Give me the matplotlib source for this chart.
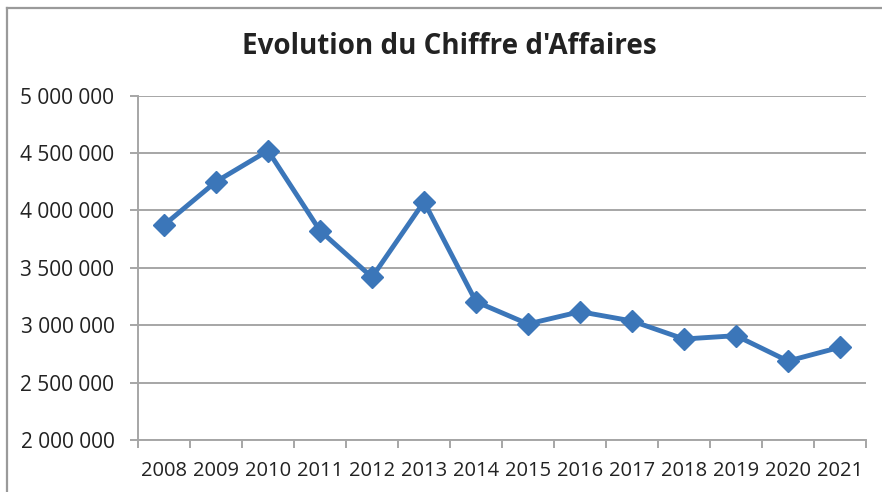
import matplotlib
matplotlib.use("Agg")
import matplotlib.pyplot as plt
from matplotlib.lines import Line2D
from matplotlib.ticker import FuncFormatter, FixedLocator

years = ["2008", "2009", "2010", "2011", "2012", "2013", "2014",
         "2015", "2016", "2017", "2018", "2019", "2020", "2021"]
chiffre_affaires = [3873000, 4251000, 4521000, 3824000, 3418000, 4076000, 3205000,
                    3011000, 3118000, 3037000, 2880000, 2909000, 2688000, 2808000]
y_ticks = [2000000, 2500000, 3000000, 3500000, 4000000, 4500000, 5000000]
title = "Evolution du Chiffre d'Affaires"

plt.rcParams['font.family'] = ['Open Sans', 'DejaVu Sans']

W, H = 882, 492
fig = plt.figure(figsize=(W / 100, H / 100), dpi=100)
ax = fig.add_axes([138 / W, 1 - 440 / H, (866 - 138) / W, (440 - 95.7) / H])

grid_c = "#a6a6a6"
line_c = "#3b76b9"

x = list(range(len(years)))
ax.plot(x, chiffre_affaires, color=line_c, lw=3.5, marker="D", markersize=11,
        markerfacecolor=line_c, markeredgecolor=line_c, solid_joinstyle="round", zorder=3)

ax.set_xlim(-0.5, len(years) - 0.5)
ax.set_ylim(y_ticks[0], y_ticks[-1])
ax.set_yticks(y_ticks)
ax.yaxis.set_major_formatter(FuncFormatter(lambda v, p: f"{int(v):,}".replace(",", " ")))
ax.grid(axis="y", color=grid_c, lw=1.4)
ax.set_axisbelow(True)

ax.set_xticks(x)
ax.set_xticklabels(years)
ax.xaxis.set_minor_locator(FixedLocator([i - 0.5 for i in range(len(years) + 1)]))
ax.tick_params(axis="x", which="major", length=0, pad=15, labelsize=14.5, labelcolor="#222222")
ax.tick_params(axis="x", which="minor", length=6, width=1.4, color=grid_c, direction="out")
ax.tick_params(axis="y", length=6, width=1.4, color=grid_c, pad=11, labelsize=15,
               labelcolor="#222222")

for s in ["top", "right"]:
    ax.spines[s].set_visible(False)
for s in ["left", "bottom"]:
    ax.spines[s].set_color(grid_c)
    ax.spines[s].set_linewidth(1.4)

fig.text(449 / W, 1 - 47 / H, title, ha="center", va="center", fontsize=20,
         fontweight="bold", color="#222222")

# outer chart frame (cropped at right and bottom)
fig.add_artist(Line2D([6.5 / W, 6.5 / W], [0, 1 - 7.5 / H], transform=fig.transFigure,
                      color="#9a9a9a", lw=1.6))
fig.add_artist(Line2D([6.5 / W, 1], [1 - 7.5 / H, 1 - 7.5 / H], transform=fig.transFigure,
                      color="#9a9a9a", lw=1.6))

fig.savefig("out.png", dpi=100)
